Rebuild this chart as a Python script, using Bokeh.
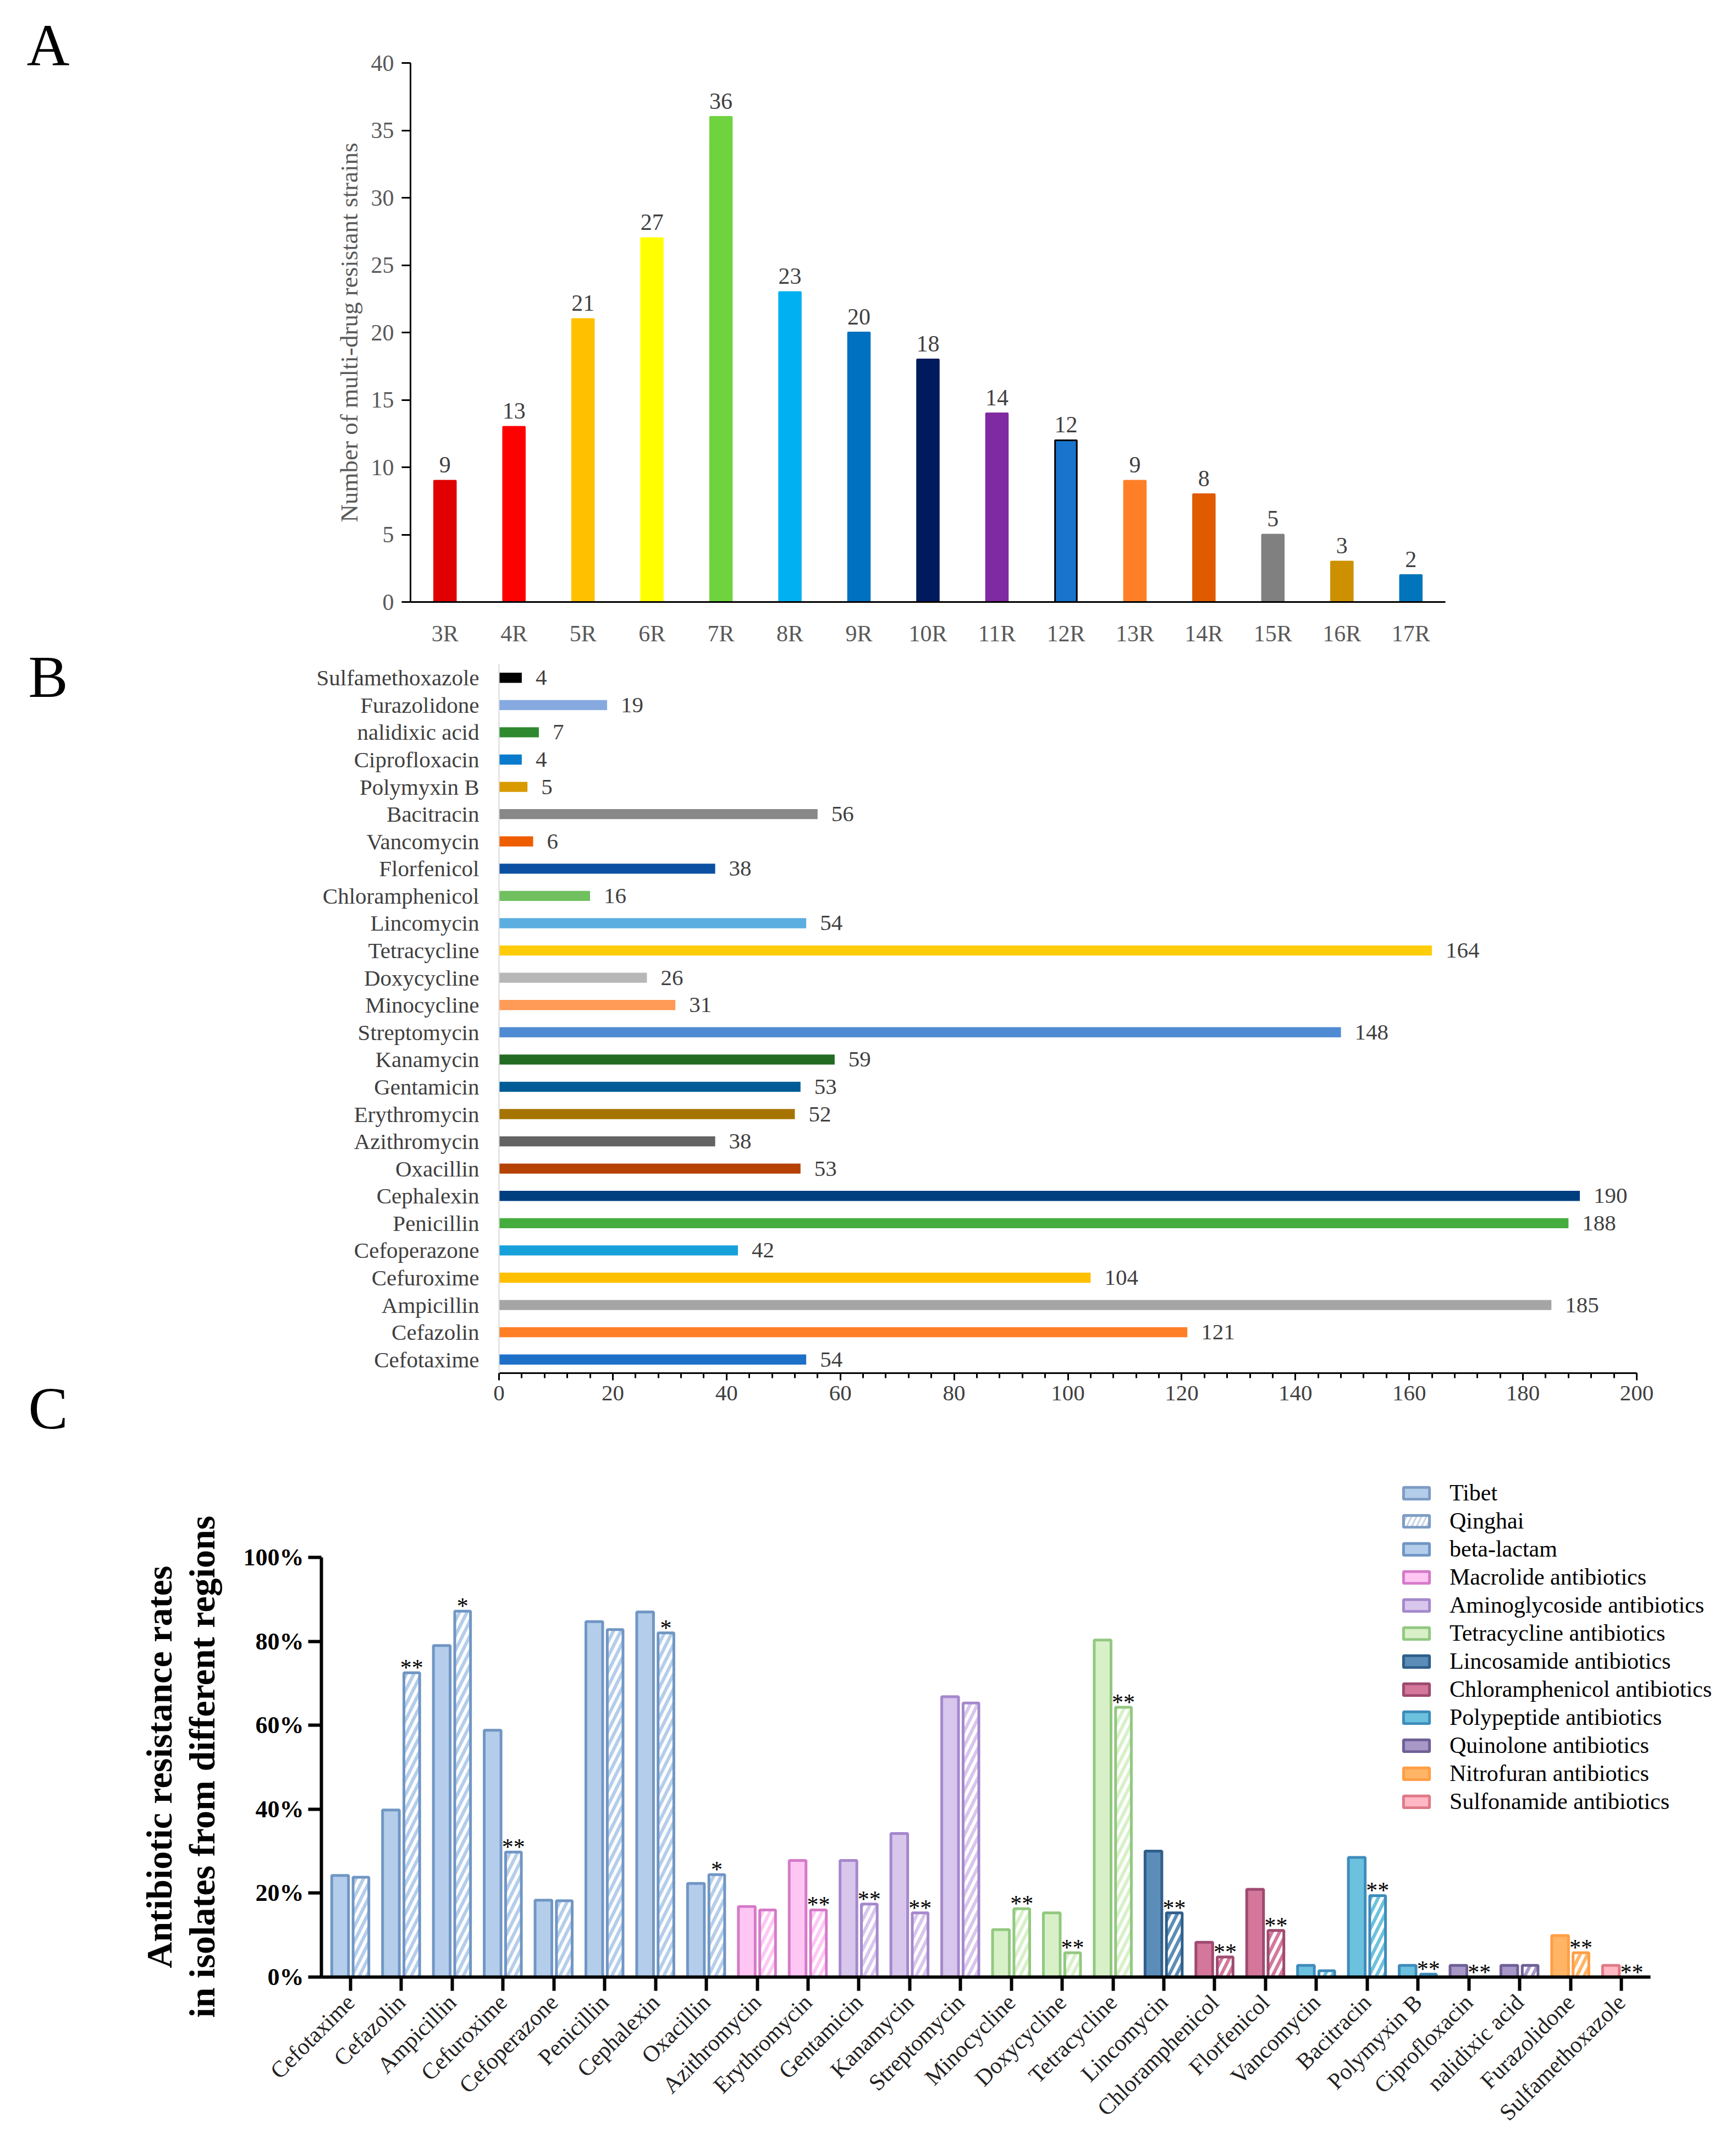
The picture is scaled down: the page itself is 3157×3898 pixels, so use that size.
import math
from bokeh.plotting import figure
from bokeh.models import (ColumnDataSource, FactorRange, Range1d, FixedTicker, Plot,
                          PrintfTickFormatter, Legend, LegendItem, Title)
from bokeh.transform import dodge
from bokeh.layouts import column, row
from bokeh.embed import file_html
from bokeh.resources import INLINE
from bokeh.core.properties import value

SERIF = "Liberation Serif"

# ---------------- Panel A data ----------------
mdr_levels = ["3R", "4R", "5R", "6R", "7R", "8R", "9R", "10R", "11R", "12R",
              "13R", "14R", "15R", "16R", "17R"]
mdr_counts = [9, 13, 21, 27, 36, 23, 20, 18, 14, 12, 9, 8, 5, 3, 2]
mdr_colors = ["#E00000", "#FF0000", "#FFC000", "#FFFF00", "#6FD33F", "#00B0F0",
              "#0070C0", "#001A5E", "#7F2AA0", "#1874CD", "#FF7F27", "#E05A00",
              "#808080", "#CC9000", "#0075BB"]

# ---------------- Panel B / C data ----------------
drugs = ["Cefotaxime", "Cefazolin", "Ampicillin", "Cefuroxime", "Cefoperazone",
         "Penicillin", "Cephalexin", "Oxacillin", "Azithromycin", "Erythromycin",
         "Gentamicin", "Kanamycin", "Streptomycin", "Minocycline", "Doxycycline",
         "Tetracycline", "Lincomycin", "Chloramphenicol", "Florfenicol", "Vancomycin",
         "Bacitracin", "Polymyxin B", "Ciprofloxacin", "nalidixic acid", "Furazolidone",
         "Sulfamethoxazole"]
resistant_counts = [54, 121, 185, 104, 42, 188, 190, 53, 38, 52, 53, 59, 148, 31, 26,
                    164, 54, 16, 38, 6, 56, 5, 4, 7, 19, 4]
count_colors = ["#1E6FC8", "#FF7F27", "#A5A5A5", "#FFC000", "#17A1DB", "#44AD3E",
                "#003F7F", "#B54103", "#636363", "#A57400", "#005B96", "#226B23",
                "#4F8BD2", "#FF9A57", "#B7B7B7", "#FFCC0A", "#5BAEE0", "#70C060",
                "#0C50A2", "#EE5E00", "#888888", "#D99A00", "#0A7BCC", "#2F8A2F",
                "#86A9E0", "#000000"]

tibet_rates = [24.2, 39.8, 79.0, 58.8, 18.3, 84.7, 87.0, 22.3, 16.8, 27.8, 27.8, 34.2,
               66.8, 11.3, 15.3, 80.3, 30.0, 8.3, 20.9, 2.8, 28.5, 2.8, 2.8, 2.8, 9.9, 2.8]
qinghai_rates = [23.8, 72.5, 87.2, 29.8, 18.2, 82.8, 82.0, 24.4, 16.0, 16.0, 17.4, 15.3,
                 65.3, 16.3, 5.8, 64.3, 15.3, 4.8, 11.1, 1.5, 19.4, 0.7, 0.0, 2.8, 5.8, 0.0]
significance = ["", "**", "*", "**", "", "", "*", "*", "", "**", "**", "**", "", "**",
                "**", "**", "**", "**", "**", "", "**", "**", "**", "", "**", "**"]
drug_class = ["beta-lactam", "beta-lactam", "beta-lactam", "beta-lactam", "beta-lactam",
              "beta-lactam", "beta-lactam", "beta-lactam",
              "Macrolide antibiotics", "Macrolide antibiotics",
              "Aminoglycoside antibiotics", "Aminoglycoside antibiotics",
              "Aminoglycoside antibiotics",
              "Tetracycline antibiotics", "Tetracycline antibiotics",
              "Tetracycline antibiotics",
              "Lincosamide antibiotics",
              "Chloramphenicol antibiotics", "Chloramphenicol antibiotics",
              "Polypeptide antibiotics", "Polypeptide antibiotics", "Polypeptide antibiotics",
              "Quinolone antibiotics", "Quinolone antibiotics",
              "Nitrofuran antibiotics",
              "Sulfonamide antibiotics"]
class_names = ["beta-lactam", "Macrolide antibiotics", "Aminoglycoside antibiotics",
               "Tetracycline antibiotics", "Lincosamide antibiotics",
               "Chloramphenicol antibiotics", "Polypeptide antibiotics",
               "Quinolone antibiotics", "Nitrofuran antibiotics", "Sulfonamide antibiotics"]
class_fill = ["#B4CDEA", "#FFC6F4", "#D9C6EC", "#D8F0C8", "#5B8DB8", "#D4779A",
              "#6CC2DE", "#A898C8", "#FFB466", "#FFB8C4"]
class_line = ["#7096C4", "#D57AC8", "#A588CC", "#92C880", "#2F5F8A", "#9E4A70",
              "#3E8CBC", "#6E6096", "#FF9E45", "#E07A88"]
region_names = ["Tibet", "Qinghai"]
panel_letters = ["A", "B", "C"]

NOALIGN = {"frame_align": False} if "frame_align" in Plot.properties() else {}


def clean(p):
    for g in p.xgrid:
        g.grid_line_color = None
    for g in p.ygrid:
        g.grid_line_color = None
    p.outline_line_color = None
    p.background_fill_color = "white"
    p.border_fill_color = "white"


# ================= panel letters =================
pL = figure(frame_width=158, frame_height=3890, x_range=Range1d(0, 158),
            y_range=Range1d(3890, 0), x_axis_type=None, y_axis_type=None,
            output_backend="svg", toolbar_location=None, min_border=0, **NOALIGN)
clean(pL)
pL.text(x=[87, 87, 87], y=[82, 1230, 2560], text=panel_letters, text_align="center",
        text_baseline="middle", text_font=value(SERIF), text_font_size="108px",
        text_color="black")

# ================= Panel A =================
pA = figure(frame_width=1882, frame_height=980,
            x_range=FactorRange(factors=mdr_levels, range_padding=0),
            y_range=Range1d(0, 40), output_backend="svg", toolbar_location=None,
            min_border_left=588, min_border_right=521, min_border_top=114,
            min_border_bottom=86, **NOALIGN)
clean(pA)
srcA = ColumnDataSource(dict(level=mdr_levels, count=mdr_counts, color=mdr_colors,
                             outline=["#000000" if l == "12R" else c
                                      for l, c in zip(mdr_levels, mdr_colors)],
                             label=[str(v) for v in mdr_counts]))
pA.vbar(x="level", top="count", width=0.315, fill_color="color", line_color="outline",
        line_width=3, source=srcA)
pA.text(x="level", y="count", text="label", source=srcA, text_align="center",
        text_baseline="alphabetic", y_offset=-29, text_font=value(SERIF),
        text_font_size="42px", text_color="#404040")
ax = pA.xaxis[0]
ax.axis_line_color = "black"
ax.axis_line_width = 3
ax.major_tick_line_color = None
ax.minor_tick_line_color = None
ax.major_label_text_font = SERIF
ax.major_label_text_font_size = "42px"
ax.major_label_text_color = "#595959"
ax.major_label_standoff = 28
ay = pA.yaxis[0]
ay.ticker = FixedTicker(ticks=[0, 5, 10, 15, 20, 25, 30, 35, 40])
ay.axis_line_color = "black"
ay.axis_line_width = 3
ay.major_tick_out = 16
ay.major_tick_in = 0
ay.major_tick_line_width = 3
ay.minor_tick_line_color = None
ay.major_label_text_font = SERIF
ay.major_label_text_font_size = "42px"
ay.major_label_text_color = "#595959"
ay.major_label_standoff = 14
ay.axis_label = "Number of multi-drug resistant strains"
ay.axis_label_text_font = SERIF
ay.axis_label_text_font_style = "normal"
ay.axis_label_text_font_size = "45px"
ay.axis_label_text_color = "#595959"
ay.axis_label_standoff = 12

# ================= Panel B =================
pB = figure(frame_width=2069, frame_height=1289, x_range=Range1d(0, 200),
            y_range=FactorRange(factors=drugs, range_padding=0), output_backend="svg",
            toolbar_location=None, min_border_left=749, min_border_right=173,
            min_border_top=27, min_border_bottom=114, **NOALIGN)
clean(pB)
srcB = ColumnDataSource(dict(drug=drugs, count=resistant_counts, color=count_colors,
                             label=[str(v) for v in resistant_counts]))
pB.hbar(y="drug", right="count", left=0, height=0.37, fill_color="color",
        line_color=None, source=srcB)
pB.text(x="count", y="drug", text="label", source=srcB, x_offset=25,
        text_align="left", text_baseline="middle", text_font=value(SERIF),
        text_font_size="41px", text_color="#404040")
bx = pB.xaxis[0]
bx.ticker = FixedTicker(ticks=list(range(0, 201, 20)), minor_ticks=list(range(0, 201, 4)))
bx.axis_line_color = "black"
bx.axis_line_width = 3
bx.major_tick_out = 13
bx.major_tick_in = 0
bx.major_tick_line_width = 3
bx.minor_tick_out = 9
bx.minor_tick_in = 0
bx.minor_tick_line_width = 3
bx.minor_tick_line_color = "black"
bx.major_label_text_font = SERIF
bx.major_label_text_font_size = "41px"
bx.major_label_text_color = "#404040"
bx.major_label_standoff = 10
by = pB.yaxis[0]
by.axis_line_color = "#D9D9D9"
by.axis_line_width = 2
by.major_tick_line_color = None
by.minor_tick_line_color = None
by.major_label_text_font = SERIF
by.major_label_text_font_size = "41px"
by.major_label_text_color = "#404040"
by.major_label_standoff = 30

# ================= Panel C =================
n_drugs = len(drugs)
pC = figure(frame_width=2565, frame_height=940, x_range=Range1d(-0.573, 27.174),
            y_range=Range1d(0, 123.2), output_backend="svg", toolbar_location=None,
            min_border_left=426, min_border_right=0, min_border_top=44,
            min_border_bottom=296, **NOALIGN)
clean(pC)

class_renderers = []
class_sources = []
for cname, fc, lc in zip(class_names, class_fill, class_line):
    idx = [i for i, c in enumerate(drug_class) if c == cname]
    src = ColumnDataSource(dict(pos=idx,
                                tibet=[tibet_rates[i] for i in idx],
                                qinghai=[qinghai_rates[i] for i in idx]))
    rT = pC.vbar(x=dodge("pos", -0.205), top="tibet", width=0.33,
                 fill_color=fc, line_color=lc, line_width=5, source=src)
    pC.vbar(x=dodge("pos", 0.205), top="qinghai", width=0.31,
            fill_color=fc, line_color=lc, line_width=5, hatch_pattern="/",
            hatch_color="white", hatch_scale=27, hatch_weight=6, source=src)
    class_renderers.append(rT)
    class_sources.append(src)

sig_idx = [i for i, s in enumerate(significance) if s]
srcS = ColumnDataSource(dict(pos=sig_idx,
                             y=[qinghai_rates[i] for i in sig_idx],
                             s=[significance[i] for i in sig_idx]))
pC.text(x=dodge("pos", 0.205), y="y", text="s", source=srcS,
        text_align="center", text_baseline="alphabetic", y_offset=-9,
        text_font=value(SERIF), text_font_size="42px", text_color="black")

# legend proxies for the two regions (hidden; only their swatches are used)
rTib = pC.vbar(x=dodge("pos", -0.205), top="tibet", width=0.33, fill_color="#B4CDEA",
               line_color="#7D9CC4", line_width=5, source=class_sources[0],
               visible=False)
rQin = pC.vbar(x=dodge("pos", 0.205), top="qinghai", width=0.31, fill_color="white",
               line_color="#7D9CC4", line_width=5, hatch_pattern="/",
               hatch_color="#C4D2E4", hatch_scale=18, hatch_weight=3,
               source=class_sources[0], visible=False)
items = [LegendItem(label=region_names[0], renderers=[rTib]),
         LegendItem(label=region_names[1], renderers=[rQin])]
for cname, r in zip(class_names, class_renderers):
    items.append(LegendItem(label=cname, renderers=[r]))
leg = Legend(items=items, location=(1962, 295), orientation="vertical",
             glyph_width=59, glyph_height=27, label_height=48, spacing=3,
             label_standoff=31, label_text_font=SERIF, label_text_font_size="42px",
             label_text_color="black", padding=0, margin=0, border_line_color=None,
             background_fill_alpha=0, inactive_fill_alpha=0)
pC.add_layout(leg)

cx = pC.xaxis[0]
cx.ticker = FixedTicker(ticks=list(range(n_drugs)))
cx.major_label_overrides = {i: d for i, d in enumerate(drugs)}
cx.bounds = (-0.573, n_drugs - 0.427)
cx.axis_line_color = "black"
cx.axis_line_width = 6
cx.major_tick_out = 25
cx.major_tick_in = 0
cx.major_tick_line_width = 6
cx.major_tick_line_color = "black"
cx.minor_tick_line_color = None
cx.major_label_orientation = math.pi / 4
cx.major_label_text_font = SERIF
cx.major_label_text_font_size = "42px"
cx.major_label_text_color = "#222222"
cx.major_label_standoff = 14
cy = pC.yaxis[0]
cy.ticker = FixedTicker(ticks=[0, 20, 40, 60, 80, 100])
cy.formatter = PrintfTickFormatter(format="%d%%")
cy.bounds = (0, 100)
cy.axis_line_color = "black"
cy.axis_line_width = 6
cy.major_tick_out = 24
cy.major_tick_in = 0
cy.major_tick_line_width = 6
cy.minor_tick_line_color = None
cy.major_label_text_font = SERIF
cy.major_label_text_font_style = "bold"
cy.major_label_text_font_size = "44px"
cy.major_label_text_color = "black"
cy.major_label_standoff = 8
cy.axis_label = "\u00a0"
cy.axis_label_text_font_size = "2px"
cy.axis_label_standoff = 28

t2 = Title(text="in isolates from different regions", align="left", offset=-74,
           vertical_align="bottom", standoff=6, text_font=SERIF,
           text_font_size="66px", text_font_style="bold", text_color="black")
pC.add_layout(t2, "left")
t1 = Title(text="Antibiotic resistance rates", align="left", offset=16,
           vertical_align="bottom", standoff=0, text_font=SERIF,
           text_font_size="66px", text_font_style="bold", text_color="black")
pC.add_layout(t1, "left")

layout = row(pL, column(pA, pB, pC, spacing=0), spacing=0)
open("out.html", "w").write(file_html(layout, INLINE))
